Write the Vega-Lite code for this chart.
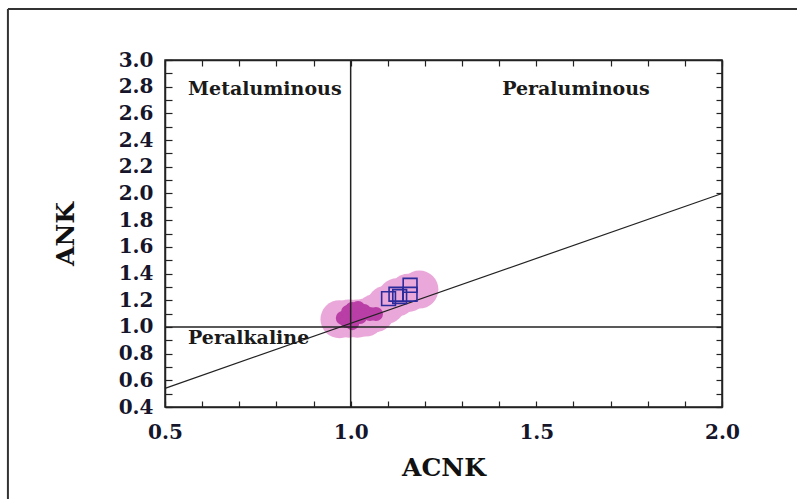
{
  "$schema": "https://vega.github.io/schema/vega-lite/v6.json",
  "width": 557,
  "height": 347,
  "autosize": "none",
  "padding": {"left": 165, "top": 60, "right": 75, "bottom": 92},
  "background": "white",
  "config": {
    "view": {"stroke": "#222222", "strokeWidth": 1.5},
    "axis": {
      "grid": false,
      "domainColor": "#222222",
      "domainWidth": 1.5,
      "tickColor": "#222222",
      "tickWidth": 1.2,
      "labelFont": "DejaVu Serif",
      "labelFontWeight": "bold",
      "labelFontSize": 20,
      "labelColor": "#15152b",
      "titleFont": "DejaVu Serif",
      "titleFontWeight": "bold",
      "titleFontSize": 25,
      "titleColor": "#111111"
    }
  },
  "datasets": {
    "frame": [
      {"ACNK": 0.077, "ANK": 3.382, "ACNK2": 2.3, "ANK2": 3.382},
      {"ACNK": 0.077, "ANK": 3.382, "ACNK2": 0.077, "ANK2": -0.35}
    ],
    "env": [
      {"ACNK": 0.970, "ANK": 1.058},
      {"ACNK": 0.995, "ANK": 1.062},
      {"ACNK": 1.018, "ANK": 1.062},
      {"ACNK": 1.040, "ANK": 1.070},
      {"ACNK": 1.066, "ANK": 1.104},
      {"ACNK": 1.095, "ANK": 1.165},
      {"ACNK": 1.125, "ANK": 1.222},
      {"ACNK": 1.155, "ANK": 1.255},
      {"ACNK": 1.185, "ANK": 1.280}
    ],
    "circles": [
      {"ACNK": 0.979, "ANK": 1.067},
      {"ACNK": 0.993, "ANK": 1.112},
      {"ACNK": 1.004, "ANK": 1.134},
      {"ACNK": 1.020, "ANK": 1.142},
      {"ACNK": 1.036, "ANK": 1.119},
      {"ACNK": 1.052, "ANK": 1.097},
      {"ACNK": 1.068, "ANK": 1.097},
      {"ACNK": 1.012, "ANK": 1.089},
      {"ACNK": 0.990, "ANK": 1.044},
      {"ACNK": 1.025, "ANK": 1.074},
      {"ACNK": 1.004, "ANK": 1.029}
    ],
    "squares": [
      {"ACNK": 1.102, "ANK": 1.212},
      {"ACNK": 1.122, "ANK": 1.245},
      {"ACNK": 1.132, "ANK": 1.228},
      {"ACNK": 1.160, "ANK": 1.245},
      {"ACNK": 1.160, "ANK": 1.312}
    ],
    "diag": [
      {"ACNK": 0.5, "ANK": 0.54, "ACNK2": 2.0, "ANK2": 2.0}
    ],
    "labels": [
      {"ACNK": 0.562, "ANK": 2.783, "text": "Metaluminous"},
      {"ACNK": 1.408, "ANK": 2.783, "text": "Peraluminous"},
      {"ACNK": 0.562, "ANK": 0.917, "text": "Peralkaline"}
    ]
  },
  "layer": [
    {
      "data": {"name": "frame"},
      "mark": {"type": "rule", "color": "#333333", "strokeWidth": 2, "clip": false},
      "encoding": {
        "x": {"field": "ACNK", "type": "quantitative", "axis": null},
        "y": {"field": "ANK", "type": "quantitative", "axis": null},
        "x2": {"field": "ACNK2"},
        "y2": {"field": "ANK2"}
      }
    },
    {
      "data": {"name": "env"},
      "mark": {"type": "point", "shape": "circle", "filled": true, "size": 1450, "color": "#eaa8da", "opacity": 1, "strokeWidth": 0},
      "encoding": {
        "x": {
          "field": "ACNK", "type": "quantitative",
          "scale": {"domain": [0.5, 2.0], "nice": false, "zero": false},
          "axis": {
            "orient": "bottom",
            "title": "ACNK",
            "values": [0.5, 0.6, 0.7, 0.8, 0.9, 1.0, 1.1, 1.2, 1.3, 1.4, 1.5, 1.6, 1.7, 1.8, 1.9, 2.0],
            "labelExpr": "abs(round(datum.value*2)-datum.value*2)<0.001 ? format(datum.value,'.1f') : ''",
            "tickSize": -6,
            "labelPadding": 21,
            "titlePadding": 13,
            "labelFlush": false
          }
        },
        "y": {
          "field": "ANK", "type": "quantitative",
          "scale": {"domain": [0.4, 3.0], "nice": false, "zero": false},
          "axis": {
            "orient": "left",
            "title": "ANK",
            "values": [0.4, 0.5, 0.6, 0.7, 0.8, 0.9, 1.0, 1.1, 1.2, 1.3, 1.4, 1.5, 1.6, 1.7, 1.8, 1.9, 2.0, 2.1, 2.2, 2.3, 2.4, 2.5, 2.6, 2.7, 2.8, 2.9, 3.0],
            "labelExpr": "abs(round(datum.value*5)-datum.value*5)<0.001 ? format(datum.value,'.1f') : ''",
            "tickSize": -7,
            "labelPadding": 19,
            "titlePadding": 40,
            "labelFlush": false
          }
        }
      }
    },
    {
      "data": {"name": "circles"},
      "mark": {"type": "point", "shape": "circle", "filled": true, "size": 200, "color": "#b93ea6", "opacity": 1, "strokeWidth": 0},
      "encoding": {
        "x": {"field": "ACNK", "type": "quantitative", "axis": null},
        "y": {"field": "ANK", "type": "quantitative", "axis": null}
      }
    },
    {
      "data": {"values": [{}]},
      "mark": {"type": "rule", "color": "#222222", "strokeWidth": 1.5},
      "encoding": {"x": {"datum": 1.0, "type": "quantitative", "axis": null}}
    },
    {
      "data": {"values": [{}]},
      "mark": {"type": "rule", "color": "#222222", "strokeWidth": 1.5},
      "encoding": {"y": {"datum": 1.0, "type": "quantitative", "axis": null}}
    },
    {
      "data": {"name": "diag"},
      "mark": {"type": "rule", "color": "#222222", "strokeWidth": 1.2},
      "encoding": {
        "x": {
          "field": "ACNK", "type": "quantitative",
          "axis": {
            "orient": "top", "title": null, "labels": false,
            "values": [0.5, 0.6, 0.7, 0.8, 0.9, 1.0, 1.1, 1.2, 1.3, 1.4, 1.5, 1.6, 1.7, 1.8, 1.9, 2.0],
            "tickSize": -6
          }
        },
        "y": {
          "field": "ANK", "type": "quantitative",
          "axis": {
            "orient": "right", "title": null, "labels": false,
            "values": [0.4, 0.5, 0.6, 0.7, 0.8, 0.9, 1.0, 1.1, 1.2, 1.3, 1.4, 1.5, 1.6, 1.7, 1.8, 1.9, 2.0, 2.1, 2.2, 2.3, 2.4, 2.5, 2.6, 2.7, 2.8, 2.9, 3.0],
            "tickSize": -6
          }
        },
        "x2": {"field": "ACNK2"},
        "y2": {"field": "ANK2"}
      }
    },
    {
      "data": {"name": "squares"},
      "mark": {"type": "point", "shape": "square", "filled": false, "size": 190, "stroke": "#2b2b9c", "strokeWidth": 1.6, "opacity": 1},
      "encoding": {
        "x": {"field": "ACNK", "type": "quantitative", "axis": null},
        "y": {"field": "ANK", "type": "quantitative", "axis": null}
      }
    },
    {
      "data": {"name": "labels"},
      "mark": {"type": "text", "font": "DejaVu Serif", "fontWeight": "bold", "fontSize": 19, "align": "left", "baseline": "middle", "color": "#1a1a1a"},
      "encoding": {
        "x": {"field": "ACNK", "type": "quantitative", "axis": null},
        "y": {"field": "ANK", "type": "quantitative", "axis": null},
        "text": {"field": "text"}
      }
    }
  ]
}
